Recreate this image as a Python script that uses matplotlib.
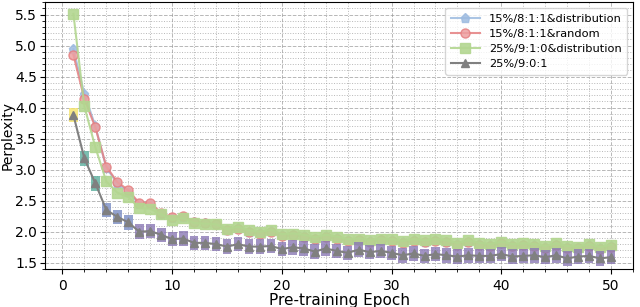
import numpy as np
import matplotlib
matplotlib.use("Agg")
import matplotlib.pyplot as plt
from matplotlib.colors import ListedColormap, BoundaryNorm
from matplotlib.ticker import MultipleLocator

epochs = np.arange(1, 51)

blue_dist = [4.94, 4.22, 3.70, 3.03, 2.78, 2.64, 2.44, 2.44, 2.29, 2.22,
             2.24, 2.15, 2.14, 2.12, 2.03, 2.06, 2.00, 1.98, 2.01, 1.94,
             1.95, 1.93, 1.89, 1.93, 1.90, 1.86, 1.87, 1.85, 1.87, 1.86,
             1.83, 1.86, 1.84, 1.86, 1.84, 1.80, 1.84, 1.80, 1.78, 1.82,
             1.78, 1.79, 1.78, 1.75, 1.79, 1.75, 1.74, 1.78, 1.73, 1.77]
red_random = [4.85, 4.14, 3.68, 3.05, 2.80, 2.67, 2.46, 2.47, 2.30, 2.23,
              2.25, 2.16, 2.14, 2.12, 2.02, 2.05, 1.99, 1.97, 2.00, 1.93,
              1.94, 1.92, 1.88, 1.92, 1.89, 1.85, 1.86, 1.84, 1.86, 1.85,
              1.82, 1.85, 1.83, 1.85, 1.83, 1.79, 1.83, 1.79, 1.77, 1.81,
              1.77, 1.78, 1.77, 1.74, 1.78, 1.74, 1.73, 1.77, 1.72, 1.76]
green_dist = [5.51, 4.02, 3.36, 2.81, 2.63, 2.56, 2.38, 2.37, 2.28, 2.19,
              2.22, 2.14, 2.13, 2.12, 2.04, 2.08, 2.02, 2.00, 2.03, 1.96,
              1.97, 1.95, 1.91, 1.95, 1.92, 1.88, 1.89, 1.87, 1.89, 1.88,
              1.85, 1.88, 1.86, 1.88, 1.86, 1.82, 1.86, 1.82, 1.80, 1.84,
              1.80, 1.81, 1.80, 1.77, 1.81, 1.77, 1.76, 1.80, 1.75, 1.79]
gray_901 = [3.88, 3.18, 2.78, 2.35, 2.24, 2.15, 2.00, 2.01, 1.95, 1.88,
            1.89, 1.82, 1.82, 1.80, 1.76, 1.80, 1.76, 1.76, 1.77, 1.72,
            1.75, 1.73, 1.68, 1.73, 1.69, 1.66, 1.71, 1.67, 1.69, 1.66,
            1.62, 1.65, 1.61, 1.64, 1.62, 1.60, 1.62, 1.61, 1.61, 1.64,
            1.60, 1.61, 1.62, 1.59, 1.62, 1.57, 1.60, 1.61, 1.57, 1.59]

labels = ["15%/8:1:1&distribution", "15%/8:1:1&random",
          "25%/9:1:0&distribution", "25%/9:0:1"]

fig = plt.figure(figsize=(6.4, 3.07), dpi=100)
ax = fig.add_axes([0.071, 0.124, 0.918, 0.869])

ax.plot(epochs, blue_dist, color="#9dbbe0", marker="p", markersize=6.5,
        linewidth=1.5, alpha=0.85, label=labels[0], zorder=3)
ax.plot(epochs, red_random, color="#e57f80", marker="o", markersize=6.5,
        markerfacecolor="#eda0a0", linewidth=1.5, alpha=0.85,
        label=labels[1], zorder=4)
ax.plot(epochs, green_dist, color="#b3d690", marker="s", markersize=6.5,
        linewidth=1.5, alpha=0.9, label=labels[2], zorder=5)

# coloured rectangles behind the last series
rect = [(-0.6, -1), (0.6, -1), (0.6, 1), (-0.6, 1), (-0.6, -1)]
cmap = ListedColormap(["#8a78b4", "#7a8cc4", "#5aae9c", "#f5e46a"])
norm = BoundaryNorm([1.0, 2.1, 2.5, 3.5, 6.0], cmap.N)
ax.scatter(epochs, gray_901, c=gray_901, cmap=cmap, norm=norm, marker=rect,
           s=110, alpha=0.8, linewidths=0, zorder=6)
ax.plot(epochs, gray_901, color="#808080", marker="^", markersize=6,
        linewidth=1.5, label=labels[3], zorder=7)

ax.set_xlim(-1.55, 52.0)
ax.set_ylim(1.40, 5.70)
ax.xaxis.set_major_locator(MultipleLocator(10))
ax.xaxis.set_minor_locator(MultipleLocator(2))
ax.yaxis.set_major_locator(MultipleLocator(0.5))
ax.yaxis.set_minor_locator(MultipleLocator(0.1))
ax.grid(which="major", linestyle="--", color="#999999", linewidth=0.7, alpha=0.7)
ax.grid(which="minor", linestyle=":", color="#999999", linewidth=0.7, alpha=0.7)
ax.tick_params(labelsize=10)
ax.tick_params(axis="y", pad=2.5)
ax.tick_params(which="both", direction="out")

ax.set_xlabel("Pre-training Epoch", fontsize=11, labelpad=0)
ax.set_ylabel("Perplexity", fontsize=10)
ax.yaxis.set_label_coords(-0.052, 0.5)
ax.legend(loc="upper right", fontsize=8.2, framealpha=0.8,
          handlelength=2.5, borderpad=0.5, labelspacing=0.45)

fig.savefig("out.png", dpi=100)
